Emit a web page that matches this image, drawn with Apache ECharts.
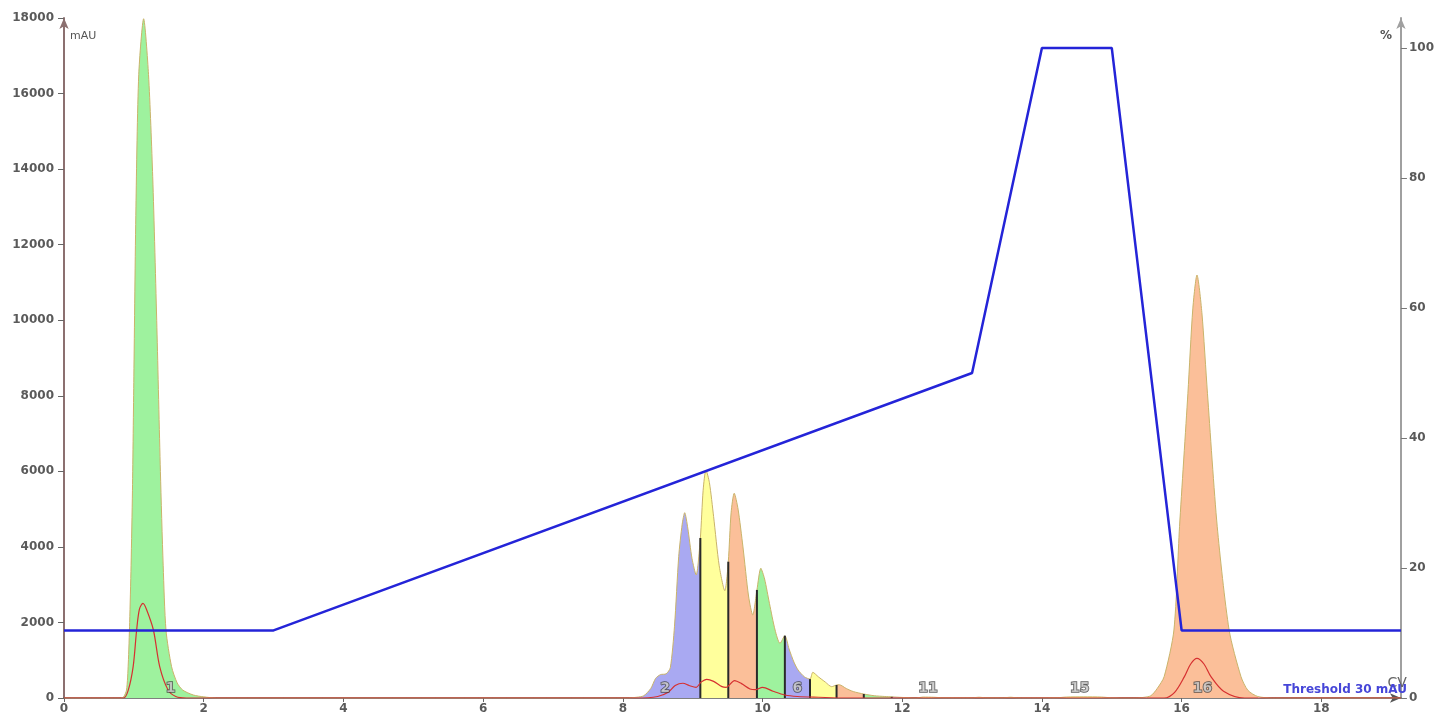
<!DOCTYPE html>
<html>
<head>
<meta charset="utf-8">
<script src="https://cdn.jsdelivr.net/npm/echarts@6/dist/echarts.min.js"></script>
<style>
  html, body { margin: 0; padding: 0; background: #ffffff; }
  #chart { width: 1437px; height: 721px; }
</style>
</head>
<body>
<div id="chart"></div>
<script>
// Flash run: main UV trace (mAU) against column volumes, split into collected fractions.
const uvPeak1 = [
  [0, 0], [0.80, 0], [0.85, 20], [0.895, 210], [0.92, 900], [0.94, 2000], [0.96, 3500],
  [0.98, 5500], [1.00, 8500], [1.03, 13000], [1.07, 16500], [1.14, 17980], [1.21, 16500],
  [1.27, 13800], [1.33, 9800], [1.38, 6000], [1.42, 3500], [1.46, 1800], [1.54, 830],
  [1.62, 400], [1.70, 210], [1.85, 80], [2.00, 30], [2.18, 0]
];
const uvCluster = [
  [8.05, 0], [8.20, 20], [8.30, 60], [8.40, 250], [8.47, 520], [8.54, 620], [8.62, 640],
  [8.68, 800], [8.74, 1900], [8.80, 3740], [8.85, 4600], [8.886, 4905], [8.93, 4500],
  [8.99, 3700], [9.05, 3256], [9.11, 4235], [9.15, 5500], [9.19, 6035], [9.24, 5700],
  [9.30, 4800], [9.38, 3500], [9.46, 2840], [9.51, 3608], [9.55, 4900], [9.595, 5420],
  [9.65, 5000], [9.72, 4000], [9.80, 2700], [9.86, 2197], [9.92, 2860], [9.976, 3433],
  [10.03, 3150], [10.10, 2500], [10.18, 1800], [10.25, 1448], [10.32, 1650], [10.38, 1300],
  [10.45, 950], [10.51, 740], [10.60, 560], [10.68, 500], [10.72, 680], [10.80, 560],
  [10.90, 420], [10.99, 300], [11.06, 344], [11.10, 350], [11.20, 250], [11.30, 170],
  [11.45, 105], [11.60, 60], [11.75, 40], [11.85, 30], [12.00, 15]
];
const uvLate = [
  [12.20, 0], [12.30, 25], [12.45, 20], [12.60, 5], [13.00, 5], [13.10, 20], [13.20, 5],
  [13.45, 5], [13.55, 20], [13.65, 5], [14.20, 5], [14.35, 25], [14.60, 30], [14.85, 25],
  [15.00, 5], [15.30, 0]
];
const uvPeak16 = [
  [15.45, 15], [15.56, 60], [15.65, 250], [15.75, 565], [15.89, 1800], [15.97, 4535],
  [16.09, 8065], [16.16, 10300], [16.22, 11196], [16.29, 10200], [16.37, 8065],
  [16.51, 4535], [16.68, 1800], [16.85, 565], [16.95, 200], [17.09, 40], [17.30, 0], [19.14, 0]
];

// Second wavelength trace (mAU)
const uvSecond = [
  [0, 0], [0.85, 0], [0.92, 210], [0.99, 830], [1.04, 1800], [1.08, 2350], [1.13, 2505],
  [1.18, 2350], [1.28, 1800], [1.37, 830], [1.49, 210], [1.60, 40], [1.75, 0],
  [8.20, 0], [8.50, 40], [8.65, 150], [8.75, 330], [8.86, 390], [8.95, 330], [9.05, 283],
  [9.12, 420], [9.20, 495], [9.30, 440], [9.42, 300], [9.48, 283], [9.60, 460], [9.70, 380],
  [9.82, 240], [9.90, 220], [10.00, 283], [10.15, 180], [10.32, 80], [10.50, 40], [10.80, 20],
  [11.20, 0], [15.75, 0], [15.90, 150], [16.04, 565], [16.13, 900], [16.22, 1050],
  [16.32, 900], [16.42, 565], [16.60, 180], [16.90, 0], [19.14, 0]
];

// Solvent B gradient (%)
const gradientCV = [0, 3, 13, 14, 15, 16, 19.14];
const gradientB = [10.4, 10.4, 50, 100, 100, 10.4, 10.4];

// Collected fractions
const fractionNo    = [1, 2, 3, 4, 5, 6, 7, 8, 9, 10, 11, 12, 13, 14, 15, 16];
const fractionStart = [0.85, 8.10, 9.11, 9.51, 9.92, 10.32, 10.68, 11.06, 11.45, 11.85, 12.00, 12.74, 13.20, 13.70, 14.10, 15.50];
const fractionEnd   = [2.20, 9.11, 9.51, 9.92, 10.32, 10.68, 11.06, 11.45, 11.85, 12.00, 12.74, 13.20, 13.70, 14.10, 14.98, 17.10];
const fractionCuts  = [9.11, 9.51, 9.92, 10.32, 10.68, 11.06, 11.45, 11.85];
const labelledFractions = [1, 2, 6, 11, 15, 16];

const xTicks = [0, 2, 4, 6, 8, 10, 12, 14, 16, 18];
const pctTicks = [0, 20, 40, 60, 80, 100];

const fractionPalette = ['#9ef29e', '#a9a9f2', '#ffff9c', '#fbbf99'];
const LABEL_LEVEL = 265;

const uvMain = [].concat(uvPeak1, uvCluster, uvLate, uvPeak16);

function uvAt(x) {
  for (const p of uvMain) if (Math.abs(p[0] - x) < 1e-6) return p[1];
  return 0;
}

const pieces = fractionNo.map((n, i) => ({
  gte: fractionStart[i], lt: fractionEnd[i], color: fractionPalette[(n - 1) % 4]
}));

const labelData = labelledFractions.map(n => {
  const i = fractionNo.indexOf(n);
  return [(fractionStart[i] + fractionEnd[i]) / 2, LABEL_LEVEL, n];
});

const axisFont = {
  color: '#5a5a5a', fontFamily: 'DejaVu Sans', fontWeight: 'bold', fontSize: 12,
  formatter: v => String(v)
};

const chart = echarts.init(document.getElementById('chart'), null, { renderer: 'canvas' });
chart.setOption({
  backgroundColor: '#ffffff',
  animation: false,
  grid: { left: 64, right: 33, top: 18, bottom: 23, containLabel: false },
  xAxis: {
    type: 'value', min: 0, max: 19.14,
    name: 'CV', nameLocation: 'end', nameGap: 6,
    nameTextStyle: { color: '#666', fontFamily: 'DejaVu Sans', fontSize: 14, align: 'right', verticalAlign: 'bottom', padding: [0, 0, 8, 0] },
    axisLine: { show: true, symbol: ['none', 'arrow'], symbolSize: [7, 11], lineStyle: { color: '#555', width: 1.5 } },
    axisTick: { show: true, customValues: xTicks, length: 4, lineStyle: { color: '#666' } },
    axisLabel: Object.assign({}, axisFont, { customValues: xTicks, margin: 5 }),
    splitLine: { show: false }
  },
  yAxis: [
    {
      type: 'value', min: 0, max: 18000, interval: 2000, position: 'left',
      name: 'mAU', nameLocation: 'end', nameGap: -13,
      nameTextStyle: { color: '#555', fontFamily: 'DejaVu Sans', fontSize: 11, align: 'left', verticalAlign: 'top', padding: [0, 0, 0, 6] },
      axisLine: { show: true, symbol: ['none', 'arrow'], symbolSize: [7, 11], lineStyle: { color: '#8c7070', width: 2 } },
      axisTick: { show: true, length: 6, lineStyle: { color: '#666' } },
      axisLabel: Object.assign({}, axisFont, { margin: 10 }),
      splitLine: { show: false }
    },
    {
      type: 'value', min: 0, max: 104.6, position: 'right',
      name: '%', nameLocation: 'end', nameGap: -12,
      nameTextStyle: { color: '#555', fontFamily: 'DejaVu Sans', fontWeight: 'bold', fontSize: 12, align: 'right', verticalAlign: 'top', padding: [0, 9, 0, 0] },
      axisLine: { show: true, symbol: ['none', 'arrow'], symbolSize: [7, 11], lineStyle: { color: '#a0a0a0', width: 2 } },
      axisTick: { show: true, customValues: pctTicks, length: 6, lineStyle: { color: '#777' } },
      axisLabel: Object.assign({}, axisFont, { customValues: pctTicks, margin: 8 }),
      splitLine: { show: false }
    }
  ],
  visualMap: {
    show: false, type: 'piecewise', seriesIndex: 0, dimension: 0,
    pieces: pieces, outOfRange: { color: '#ffffff' }
  },
  series: [
    {
      name: 'UV', type: 'line', data: uvMain, showSymbol: false, smooth: 0.25,
      lineStyle: { color: '#c9b36a', width: 1 },
      areaStyle: { opacity: 1 },
      z: 2
    },
    {
      name: 'Fraction cuts', type: 'custom', z: 3,
      data: fractionCuts.map(x => [x, uvAt(x)]),
      renderItem: (params, api) => {
        const p0 = api.coord([api.value(0), 0]);
        const p1 = api.coord([api.value(0), api.value(1)]);
        return { type: 'line', shape: { x1: p0[0], y1: p0[1], x2: p1[0], y2: p1[1] }, style: { stroke: '#2a2a2a', lineWidth: 2 } };
      }
    },
    {
      name: 'UV 2', type: 'line', data: uvSecond, showSymbol: false, smooth: 0.3,
      lineStyle: { color: '#d63030', width: 1.2 }, z: 4
    },
    {
      name: 'Fraction labels', type: 'scatter', data: labelData, symbolSize: 0, z: 5,
      label: {
        show: true, position: 'inside', formatter: p => p.value[2],
        fontFamily: 'DejaVu Sans', fontWeight: 'bold', fontSize: 14,
        color: '#cfcfcf', textBorderColor: '#383838', textBorderWidth: 1.5
      }
    },
    {
      name: 'Threshold', type: 'line', silent: true, showSymbol: false,
      data: [[0, 30], [19.14, 30]],
      lineStyle: { width: 0, opacity: 0 },
      endLabel: {
        show: true, formatter: 'Threshold 30 mAU', color: '#4646d8',
        fontFamily: 'DejaVu Sans', fontWeight: 'bold', fontSize: 12, align: 'right', verticalAlign: 'bottom',
        offset: [-2, -1]
      },
      z: 5
    },
    {
      name: '%B', type: 'line', yAxisIndex: 1,
      data: gradientCV.map((x, i) => [x, gradientB[i]]),
      showSymbol: false, lineStyle: { color: '#2424d8', width: 2.5 }, z: 6
    }
  ]
});
</script>
</body>
</html>
